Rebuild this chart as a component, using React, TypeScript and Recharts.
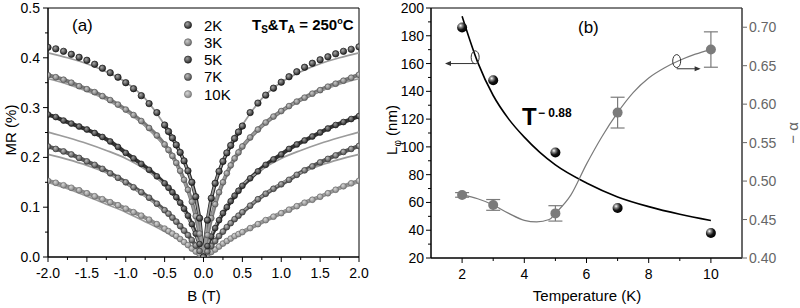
import {
  ComposedChart,
  ErrorBar,
  Line,
  LineChart,
  ReferenceArea,
  ReferenceDot,
  ReferenceLine,
  Scatter,
  XAxis,
  YAxis,
} from "recharts";

// ---- panel (a): magnetoresistance vs field ----
const FIELD = [
  -2.0, -1.9, -1.8, -1.7, -1.6, -1.5, -1.4, -1.3, -1.2, -1.1, -1.0, -0.9, -0.8,
  -0.7, -0.6, -0.5, -0.45, -0.4, -0.35, -0.3, -0.25, -0.2, -0.15, -0.1, -0.05, 0,
  0.05, 0.1, 0.15, 0.2, 0.25, 0.3, 0.35, 0.4, 0.45, 0.5, 0.6, 0.7, 0.8, 0.9, 1.0,
  1.1, 1.2, 1.3, 1.4, 1.5, 1.6, 1.7, 1.8, 1.9, 2.0,
];

const MR_2K = [
  0.421, 0.418, 0.413, 0.407, 0.401, 0.395, 0.387, 0.379, 0.37, 0.361, 0.35,
  0.338, 0.324, 0.308, 0.29, 0.265, 0.252, 0.239, 0.225, 0.21, 0.193, 0.173,
  0.15, 0.121, 0.078, 0.0, 0.074, 0.118, 0.148, 0.172, 0.192, 0.209, 0.224,
  0.238, 0.251, 0.263, 0.29, 0.309, 0.325, 0.339, 0.351, 0.362, 0.372, 0.381,
  0.389, 0.396, 0.402, 0.408, 0.413, 0.417, 0.422,
];
const MR_3K = [
  0.365, 0.361, 0.356, 0.35, 0.343, 0.337, 0.331, 0.323, 0.315, 0.306, 0.296,
  0.285, 0.273, 0.259, 0.244, 0.226, 0.215, 0.203, 0.189, 0.173, 0.155, 0.135,
  0.111, 0.082, 0.047, 0.0, 0.044, 0.078, 0.106, 0.13, 0.15, 0.168, 0.184,
  0.198, 0.21, 0.222, 0.24, 0.256, 0.27, 0.282, 0.293, 0.303, 0.312, 0.32,
  0.328, 0.335, 0.342, 0.348, 0.354, 0.36, 0.366,
];
const MR_5K = [
  0.286, 0.281, 0.274, 0.268, 0.262, 0.256, 0.249, 0.241, 0.232, 0.221, 0.209,
  0.198, 0.187, 0.175, 0.162, 0.148, 0.139, 0.13, 0.12, 0.109, 0.097, 0.083,
  0.066, 0.047, 0.026, 0.0, 0.022, 0.041, 0.058, 0.074, 0.088, 0.1, 0.112,
  0.123, 0.133, 0.143, 0.158, 0.172, 0.185, 0.196, 0.206, 0.217, 0.226, 0.234,
  0.242, 0.25, 0.258, 0.265, 0.271, 0.277, 0.283,
];
const MR_7K = [
  0.222, 0.217, 0.212, 0.206, 0.199, 0.192, 0.185, 0.177, 0.168, 0.159, 0.15,
  0.14, 0.13, 0.119, 0.107, 0.094, 0.087, 0.079, 0.071, 0.062, 0.053, 0.044,
  0.034, 0.023, 0.012, 0.0, 0.011, 0.022, 0.032, 0.042, 0.051, 0.06, 0.068,
  0.076, 0.083, 0.09, 0.103, 0.116, 0.127, 0.137, 0.146, 0.155, 0.165, 0.174,
  0.182, 0.19, 0.197, 0.204, 0.211, 0.217, 0.223,
];
const MR_10K = [
  0.153, 0.149, 0.144, 0.139, 0.134, 0.128, 0.122, 0.116, 0.11, 0.104, 0.097,
  0.09, 0.083, 0.075, 0.066, 0.057, 0.052, 0.047, 0.042, 0.036, 0.03, 0.024,
  0.017, 0.011, 0.006, 0.0, 0.005, 0.01, 0.015, 0.021, 0.027, 0.032, 0.037,
  0.042, 0.046, 0.05, 0.058, 0.066, 0.074, 0.081, 0.088, 0.095, 0.102, 0.109,
  0.115, 0.121, 0.128, 0.135, 0.142, 0.148, 0.153,
];

// HLN fit curves
const FIT_FIELD = [
  -2, -1.75, -1.5, -1.25, -1, -0.75, -0.5, -0.4, -0.3, -0.2, -0.15, -0.1, -0.05,
  -0.02, 0, 0.02, 0.05, 0.1, 0.15, 0.2, 0.3, 0.4, 0.5, 0.75, 1, 1.25, 1.5, 1.75, 2,
];
const FIT_2K = [
  0.41, 0.4, 0.388, 0.372, 0.351, 0.318, 0.265, 0.24, 0.21, 0.172, 0.148, 0.118,
  0.075, 0.035, 0, 0.035, 0.075, 0.118, 0.148, 0.172, 0.21, 0.24, 0.265, 0.318,
  0.351, 0.372, 0.388, 0.4, 0.41,
];
const FIT_3K = [
  0.358, 0.347, 0.333, 0.316, 0.293, 0.263, 0.222, 0.2, 0.17, 0.132, 0.108,
  0.08, 0.046, 0.02, 0, 0.02, 0.046, 0.08, 0.108, 0.132, 0.17, 0.2, 0.222,
  0.263, 0.293, 0.316, 0.333, 0.347, 0.358,
];
const FIT_5K = [
  0.251, 0.24, 0.228, 0.214, 0.198, 0.176, 0.145, 0.128, 0.105, 0.078, 0.062,
  0.044, 0.024, 0.01, 0, 0.01, 0.024, 0.044, 0.062, 0.078, 0.105, 0.128, 0.145,
  0.176, 0.198, 0.214, 0.228, 0.24, 0.251,
];
const FIT_7K = [
  0.206, 0.196, 0.184, 0.169, 0.148, 0.122, 0.091, 0.077, 0.061, 0.043, 0.033,
  0.022, 0.011, 0.004, 0, 0.004, 0.011, 0.022, 0.033, 0.043, 0.061, 0.077,
  0.091, 0.122, 0.148, 0.169, 0.184, 0.196, 0.206,
];
const FIT_10K = [
  0.15, 0.137, 0.122, 0.106, 0.09, 0.071, 0.051, 0.042, 0.033, 0.022, 0.016,
  0.01, 0.005, 0.002, 0, 0.002, 0.005, 0.01, 0.016, 0.022, 0.033, 0.042, 0.051,
  0.071, 0.09, 0.106, 0.122, 0.137, 0.15,
];

const B_MAJOR = [-2, -1.5, -1, -0.5, 0, 0.5, 1, 1.5, 2];
const B_MINOR = [-1.75, -1.25, -0.75, -0.25, 0.25, 0.75, 1.25, 1.75];
const MR_MAJOR = [0, 0.1, 0.2, 0.3, 0.4, 0.5];
const MR_MINOR = [0.05, 0.15, 0.25, 0.35, 0.45];

// ---- panel (b): phase coherence length and -alpha vs temperature ----
const TEMPS = [2, 3, 5, 7, 10];
const L_PHI = [186, 148, 96, 56, 38];
const ALPHA = [0.482, 0.469, 0.458, 0.589, 0.671];
const ALPHA_ERR = [0.003, 0.007, 0.01, 0.02, 0.023];

const L_FIT_T = [2, 2.5, 3, 3.5, 4, 4.5, 5, 6, 7, 8, 9, 10];
const L_FIT = [194, 161, 137, 120, 107, 96, 87, 74, 64, 57, 51.5, 47];

const ALPHA_FIT_T = [
  2, 2.5, 3, 3.5, 4, 4.4, 4.8, 5, 5.5, 6, 6.5, 7, 7.5, 8, 8.5, 9, 9.5, 10,
];
const ALPHA_FIT = [
  0.482, 0.477, 0.469, 0.458, 0.449, 0.447, 0.45, 0.458, 0.482, 0.522, 0.558,
  0.589, 0.615, 0.634, 0.647, 0.657, 0.665, 0.671,
];

const T_MAJOR = [2, 4, 6, 8, 10];
const T_MINOR = [3, 5, 7, 9];
const L_MAJOR = [20, 40, 60, 80, 100, 120, 140, 160, 180, 200];
const L_MINOR = [30, 50, 70, 90, 110, 130, 150, 170, 190];
const A_MAJOR = [0.4, 0.45, 0.5, 0.55, 0.6, 0.65, 0.7];

const SERIES = [
  { key: "t2", label: "2K", values: MR_2K, fit: FIT_2K, grad: "sph2", line: "#2a2a2a", edge: "#161616" },
  { key: "t3", label: "3K", values: MR_3K, fit: FIT_3K, grad: "sph3", line: "#7a7a7a", edge: "#555" },
  { key: "t5", label: "5K", values: MR_5K, fit: FIT_5K, grad: "sph5", line: "#333", edge: "#1e1e1e" },
  { key: "t7", label: "7K", values: MR_7K, fit: FIT_7K, grad: "sph7", line: "#595959", edge: "#3c3c3c" },
  { key: "t10", label: "10K", values: MR_10K, fit: FIT_10K, grad: "sph10", line: "#8e8e8e", edge: "#6c6c6c" },
];

const GRADS = [
  { id: "sph2", hi: "#a8a8a8", base: "#242424" },
  { id: "sph3", hi: "#cacaca", base: "#6f6f6f" },
  { id: "sph5", hi: "#9a9a9a", base: "#2a2a2a" },
  { id: "sph7", hi: "#bcbcbc", base: "#505050" },
  { id: "sph10", hi: "#d6d6d6", base: "#858585" },
];

const FONT = '"Liberation Sans", Arial, sans-serif';

const mrRows = FIELD.map((b, i) => {
  const row: Record<string, number> = { b };
  SERIES.forEach((s) => (row[s.key] = s.values[i]));
  return row;
});
const fitRows = FIT_FIELD.map((b, i) => {
  const row: Record<string, number> = { b };
  SERIES.forEach((s) => (row["f" + s.key] = s.fit[i]));
  return row;
});
// dense low-field part of the 2K sweep, drawn as a solid trace
const inner2K = mrRows.map((r) => ({ b: r.b, v: Math.abs(r.b) <= 0.5 ? r.t2 : null }));

const lRows = TEMPS.map((t, i) => ({ t, l: L_PHI[i] }));
const aRows = TEMPS.map((t, i) => ({ t, a: ALPHA[i], err: ALPHA_ERR[i] }));
const lFitRows = L_FIT_T.map((t, i) => ({ t, l: L_FIT[i] }));
const aFitRows = ALPHA_FIT_T.map((t, i) => ({ t, a: ALPHA_FIT[i] }));

type Side = "left" | "right" | "bottom";

// ticks with tickSize=0 / tickMargin=0 get the axis-line coordinate, so the
// tick marks and labels are drawn here (majors long + labelled, minors short)
function makeTick(side: Side, majors: number[], fmt: (v: number) => string, color = "#000", gap = 8) {
  return function Tick(props: any) {
    const { x, y, payload } = props;
    const v = Number(payload.value);
    const major = majors.some((m) => Math.abs(m - v) < 1e-6);
    const len = major ? 5 : 3;
    if (side === "bottom") {
      return (
        <g>
          <line x1={x} x2={x} y1={y} y2={y + len} stroke={color} />
          {major && (
            <text x={x} y={y + 21} textAnchor="middle" fontSize={14} fill={color}>
              {fmt(v)}
            </text>
          )}
        </g>
      );
    }
    if (side === "left") {
      return (
        <g>
          <line x1={x - len} x2={x} y1={y} y2={y} stroke={color} />
          {major && (
            <text x={x - gap} y={y} dy="0.36em" textAnchor="end" fontSize={14} fill={color}>
              {fmt(v)}
            </text>
          )}
        </g>
      );
    }
    return (
      <g>
        <line x1={x} x2={x + len} y1={y} y2={y} stroke={color} />
        {major && (
          <text x={x + gap} y={y} dy="0.36em" textAnchor="start" fontSize={14} fill={color}>
            {fmt(v)}
          </text>
        )}
      </g>
    );
  };
}

function sphereDot(grad: string, edge: string, r: number) {
  return function Dot(p: any) {
    const k = `${grad}-${p.index}`;
    if (p.cy == null || p.cx == null || p.value == null) return <g key={k} />;
    return (
      <circle key={k} cx={p.cx} cy={p.cy} r={r} fill={`url(#${grad})`} stroke={edge} strokeWidth={0.7} />
    );
  };
}

function Ellipse(p: any) {
  return <ellipse cx={p.cx} cy={p.cy} rx={4} ry={6.5} fill="none" stroke="#333" strokeWidth={1} />;
}

function headLeft(p: any) {
  return <path d={`M${p.cx},${p.cy} l6,-2.5 l0,5 z`} fill="#333" />;
}

function headRight(p: any) {
  return <path d={`M${p.cx},${p.cy} l-6,-2.5 l0,5 z`} fill="#333" />;
}

function MRPanel() {
  return (
    <LineChart width={400} height={308} data={mrRows} margin={{ top: 8, right: 41, bottom: 21, left: 0 }}>
      <XAxis
        type="number"
        dataKey="b"
        domain={[-2, 2]}
        ticks={[...B_MAJOR, ...B_MINOR]}
        interval={0}
        allowDataOverflow
        height={30}
        tickSize={0}
        tickMargin={0}
        tickLine={false}
        axisLine={{ stroke: "#000" }}
        tick={makeTick("bottom", B_MAJOR, (v) => v.toFixed(1))}
      />
      <YAxis
        type="number"
        domain={[0, 0.5]}
        ticks={[...MR_MAJOR, ...MR_MINOR]}
        interval={0}
        allowDataOverflow
        width={48}
        tickSize={0}
        tickMargin={0}
        tickLine={false}
        axisLine={{ stroke: "#000" }}
        tick={makeTick("left", MR_MAJOR, (v) => v.toFixed(1))}
      />
      <ReferenceArea x1={-2} x2={2} y1={0} y2={0.5} fill="none" stroke="#000" strokeWidth={1} />
      <Line
        data={inner2K}
        dataKey="v"
        type="linear"
        stroke="#262626"
        strokeWidth={3.6}
        dot={false}
        connectNulls={false}
        isAnimationActive={false}
      />
      {SERIES.slice(1)
        .slice()
        .reverse()
        .map((s) => (
          <Line
            key={s.key}
            dataKey={s.key}
            type="linear"
            stroke={s.line}
            strokeWidth={4}
            dot={sphereDot(s.grad, s.edge, 2.9)}
            activeDot={false}
            isAnimationActive={false}
          />
        ))}
      <Line
        dataKey="t2"
        type="linear"
        stroke="none"
        dot={sphereDot("sph2", "#161616", 3.2)}
        activeDot={false}
        isAnimationActive={false}
      />
      {SERIES.map((s) => (
        <Line
          key={"f" + s.key}
          data={fitRows}
          dataKey={"f" + s.key}
          type="monotone"
          stroke="#9b9b9b"
          strokeWidth={1.7}
          dot={false}
          activeDot={false}
          isAnimationActive={false}
        />
      ))}
    </LineChart>
  );
}

function TempPanel() {
  return (
    <ComposedChart width={400} height={308} margin={{ top: 8, right: 8, bottom: 20, left: 0 }}>
      <XAxis
        type="number"
        dataKey="t"
        domain={[1, 11]}
        ticks={[...T_MAJOR, ...T_MINOR]}
        interval={0}
        allowDataOverflow
        height={30}
        tickSize={0}
        tickMargin={0}
        tickLine={false}
        axisLine={{ stroke: "#000" }}
        tick={makeTick("bottom", T_MAJOR, (v) => String(v))}
      />
      <YAxis
        yAxisId="L"
        type="number"
        dataKey="l"
        domain={[20, 200]}
        ticks={[...L_MAJOR, ...L_MINOR]}
        interval={0}
        allowDataOverflow
        width={31}
        tickSize={0}
        tickMargin={0}
        tickLine={false}
        axisLine={{ stroke: "#000" }}
        tick={makeTick("left", L_MAJOR, (v) => String(v), "#000", 7)}
      />
      <YAxis
        yAxisId="R"
        orientation="right"
        type="number"
        dataKey="a"
        domain={[0.4, 0.725]}
        ticks={A_MAJOR}
        interval={0}
        allowDataOverflow
        width={50}
        tickSize={0}
        tickMargin={0}
        tickLine={false}
        axisLine={{ stroke: "#555" }}
        tick={makeTick("right", A_MAJOR, (v) => v.toFixed(2), "#666", 7)}
      />
      <ReferenceArea yAxisId="L" x1={1} x2={11} y1={20} y2={200} fill="none" stroke="#000" strokeWidth={1} />
      <Line
        yAxisId="L"
        data={lFitRows}
        dataKey="l"
        type="monotone"
        stroke="#000"
        strokeWidth={1.6}
        dot={false}
        activeDot={false}
        isAnimationActive={false}
      />
      <Line
        yAxisId="R"
        data={aFitRows}
        dataKey="a"
        type="monotone"
        stroke="#7a7a7a"
        strokeWidth={1.2}
        dot={false}
        activeDot={false}
        isAnimationActive={false}
      />
      <Scatter
        yAxisId="R"
        data={aRows}
        dataKey="a"
        isAnimationActive={false}
        shape={(p: any) => <circle cx={p.cx} cy={p.cy} r={5} fill="#7b7b7b" />}
      >
        <ErrorBar dataKey="err" direction="y" width={7} stroke="#7b7b7b" strokeWidth={1.2} />
      </Scatter>
      <Scatter
        yAxisId="L"
        data={lRows}
        dataKey="l"
        isAnimationActive={false}
        shape={(p: any) => <circle cx={p.cx} cy={p.cy} r={5} fill="url(#ball)" />}
      />
      <ReferenceLine yAxisId="L" segment={[{ x: 2.42, y: 160 }, { x: 1.5, y: 160 }]} stroke="#333" strokeWidth={1} />
      <ReferenceDot yAxisId="L" x={1.45} y={160} shape={headLeft} />
      <ReferenceDot yAxisId="L" x={2.42} y={164.5} shape={Ellipse} />
      <ReferenceLine yAxisId="R" segment={[{ x: 8.9, y: 0.646 }, { x: 9.62, y: 0.646 }]} stroke="#333" strokeWidth={1} />
      <ReferenceDot yAxisId="R" x={9.67} y={0.646} shape={headRight} />
      <ReferenceDot yAxisId="R" x={8.9} y={0.656} shape={Ellipse} />
    </ComposedChart>
  );
}

export default function App() {
  return (
    <div
      style={{
        position: "absolute",
        left: 0,
        top: 0,
        width: 800,
        height: 308,
        background: "#fff",
        fontFamily: FONT,
      }}
    >
      <div style={{ position: "absolute", left: 0, top: 0 }}>
        <MRPanel />
      </div>
      <div style={{ position: "absolute", left: 400, top: 0 }}>
        <TempPanel />
      </div>
      <svg
        width={800}
        height={308}
        style={{ position: "absolute", left: 0, top: 0, pointerEvents: "none", fontFamily: FONT }}
      >
        <defs>
          {GRADS.map((g) => (
            <radialGradient key={g.id} id={g.id} cx="38%" cy="35%" r="65%">
              <stop offset="0%" stopColor={g.hi} />
              <stop offset="100%" stopColor={g.base} />
            </radialGradient>
          ))}
          <radialGradient id="ball" cx="35%" cy="32%" r="70%">
            <stop offset="0%" stopColor="#ffffff" />
            <stop offset="25%" stopColor="#8a8a8a" />
            <stop offset="60%" stopColor="#151515" />
            <stop offset="100%" stopColor="#000" />
          </radialGradient>
        </defs>

        {/* panel (a) annotations */}
        <text x={72} y={31} fontSize={17}>(a)</text>
        <text x={252} y={30} fontSize={15} fontWeight="bold">
          T<tspan fontSize={10} dy={3}>S</tspan>
          <tspan dy={-3}>&amp;T</tspan>
          <tspan fontSize={10} dy={3}>A</tspan>
          <tspan dy={-3}> = 250</tspan>
          <tspan fontSize={9} dy={-6}>o</tspan>
          <tspan dy={6}>C</tspan>
        </text>
        {SERIES.map((s, i) => (
          <g key={s.key}>
            <circle cx={188} cy={25 + i * 17.3} r={3.6} fill={`url(#${s.grad})`} stroke={s.edge} strokeWidth={0.6} />
            <text x={204} y={25 + i * 17.3 + 5.5} fontSize={15}>
              {s.label}
            </text>
          </g>
        ))}
        <text transform="translate(16,130) rotate(-90)" textAnchor="middle" fontSize={15}>
          MR (%)
        </text>
        <text x={204} y={301} textAnchor="middle" fontSize={15}>
          B (T)
        </text>

        {/* panel (b) annotations */}
        <text x={578} y={33} fontSize={17}>(b)</text>
        <text x={522} y={125} fontSize={24} fontWeight="bold">T</text>
        <text x={538} y={117} fontSize={12} fontWeight="bold">− 0.88</text>
        <text transform="translate(397,130) rotate(-90)" textAnchor="middle" fontSize={15}>
          L<tspan fontSize={10} dy={4}>φ</tspan>
          <tspan dy={-4}> (nm)</tspan>
        </text>
        <text transform="translate(798,133) rotate(-90)" textAnchor="middle" fontSize={15} fill="#666">
          − α
        </text>
        <text x={587} y={301} textAnchor="middle" fontSize={15}>
          Temperature (K)
        </text>
      </svg>
    </div>
  );
}
